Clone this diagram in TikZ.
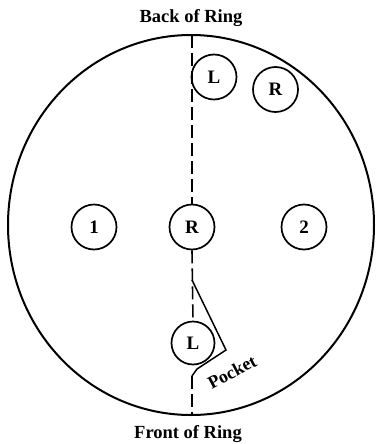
\documentclass[tikz,border=0pt]{standalone}
\usepackage{fontspec}
\setmainfont{Liberation Serif}
\usetikzlibrary{shapes.geometric}
\begin{document}
\begin{tikzpicture}[x=1pt,y=-1pt,
  spot/.style={draw, circle, line width=1.7pt, minimum size=45pt, inner sep=0pt, font=\bfseries\fontsize{19}{19}\selectfont},
  ringline/.style={line width=2pt},
  midline/.style={line width=1.6pt, dash pattern=on 13pt off 5pt},
  pocketline/.style={line width=1.5pt, line join=miter},
  title/.style={font=\bfseries\fontsize{18.5}{18.5}\selectfont, anchor=base, inner sep=0pt}]
\useasboundingbox (0,0) rectangle (375,444);
\node[draw, ellipse, ringline, minimum width=366pt, minimum height=380pt, inner sep=0pt] (ring) at (191,225) {};
\node[spot] (one) at (94,227) {1};
\node[spot] (rc) at (192,227) {R};
\node[spot] (two) at (304,227) {2};
\node[spot] (lt) at (214,77) {L};
\node[spot] (rt) at (275.5,89.5) {R};
\node[spot, minimum size=43pt] (lb) at (193,343) {L};
\coordinate (top) at (192,35);
\coordinate (bot) at (192,415);
\coordinate (p0) at (192,280);
\coordinate (p1) at (226,350);
\coordinate (p2) at (197,369);
\coordinate (p3) at (192,376);
\draw[midline] (top) -- (rc.north);
\draw[midline] (rc.south) -- (lb.north);
\draw[midline] (p3) -- (bot);
\draw[pocketline] (p0) -- (p1) -- (p2) -- (p3);
\node[title] (back) at (191,23) {Back of Ring};
\node[title] (front) at (188,438) {Front of Ring};
\node[font=\bfseries\fontsize{18}{18}\selectfont, rotate=28, inner sep=0pt] (pocket) at (232,372) {Pocket};
\end{tikzpicture}
\end{document}
